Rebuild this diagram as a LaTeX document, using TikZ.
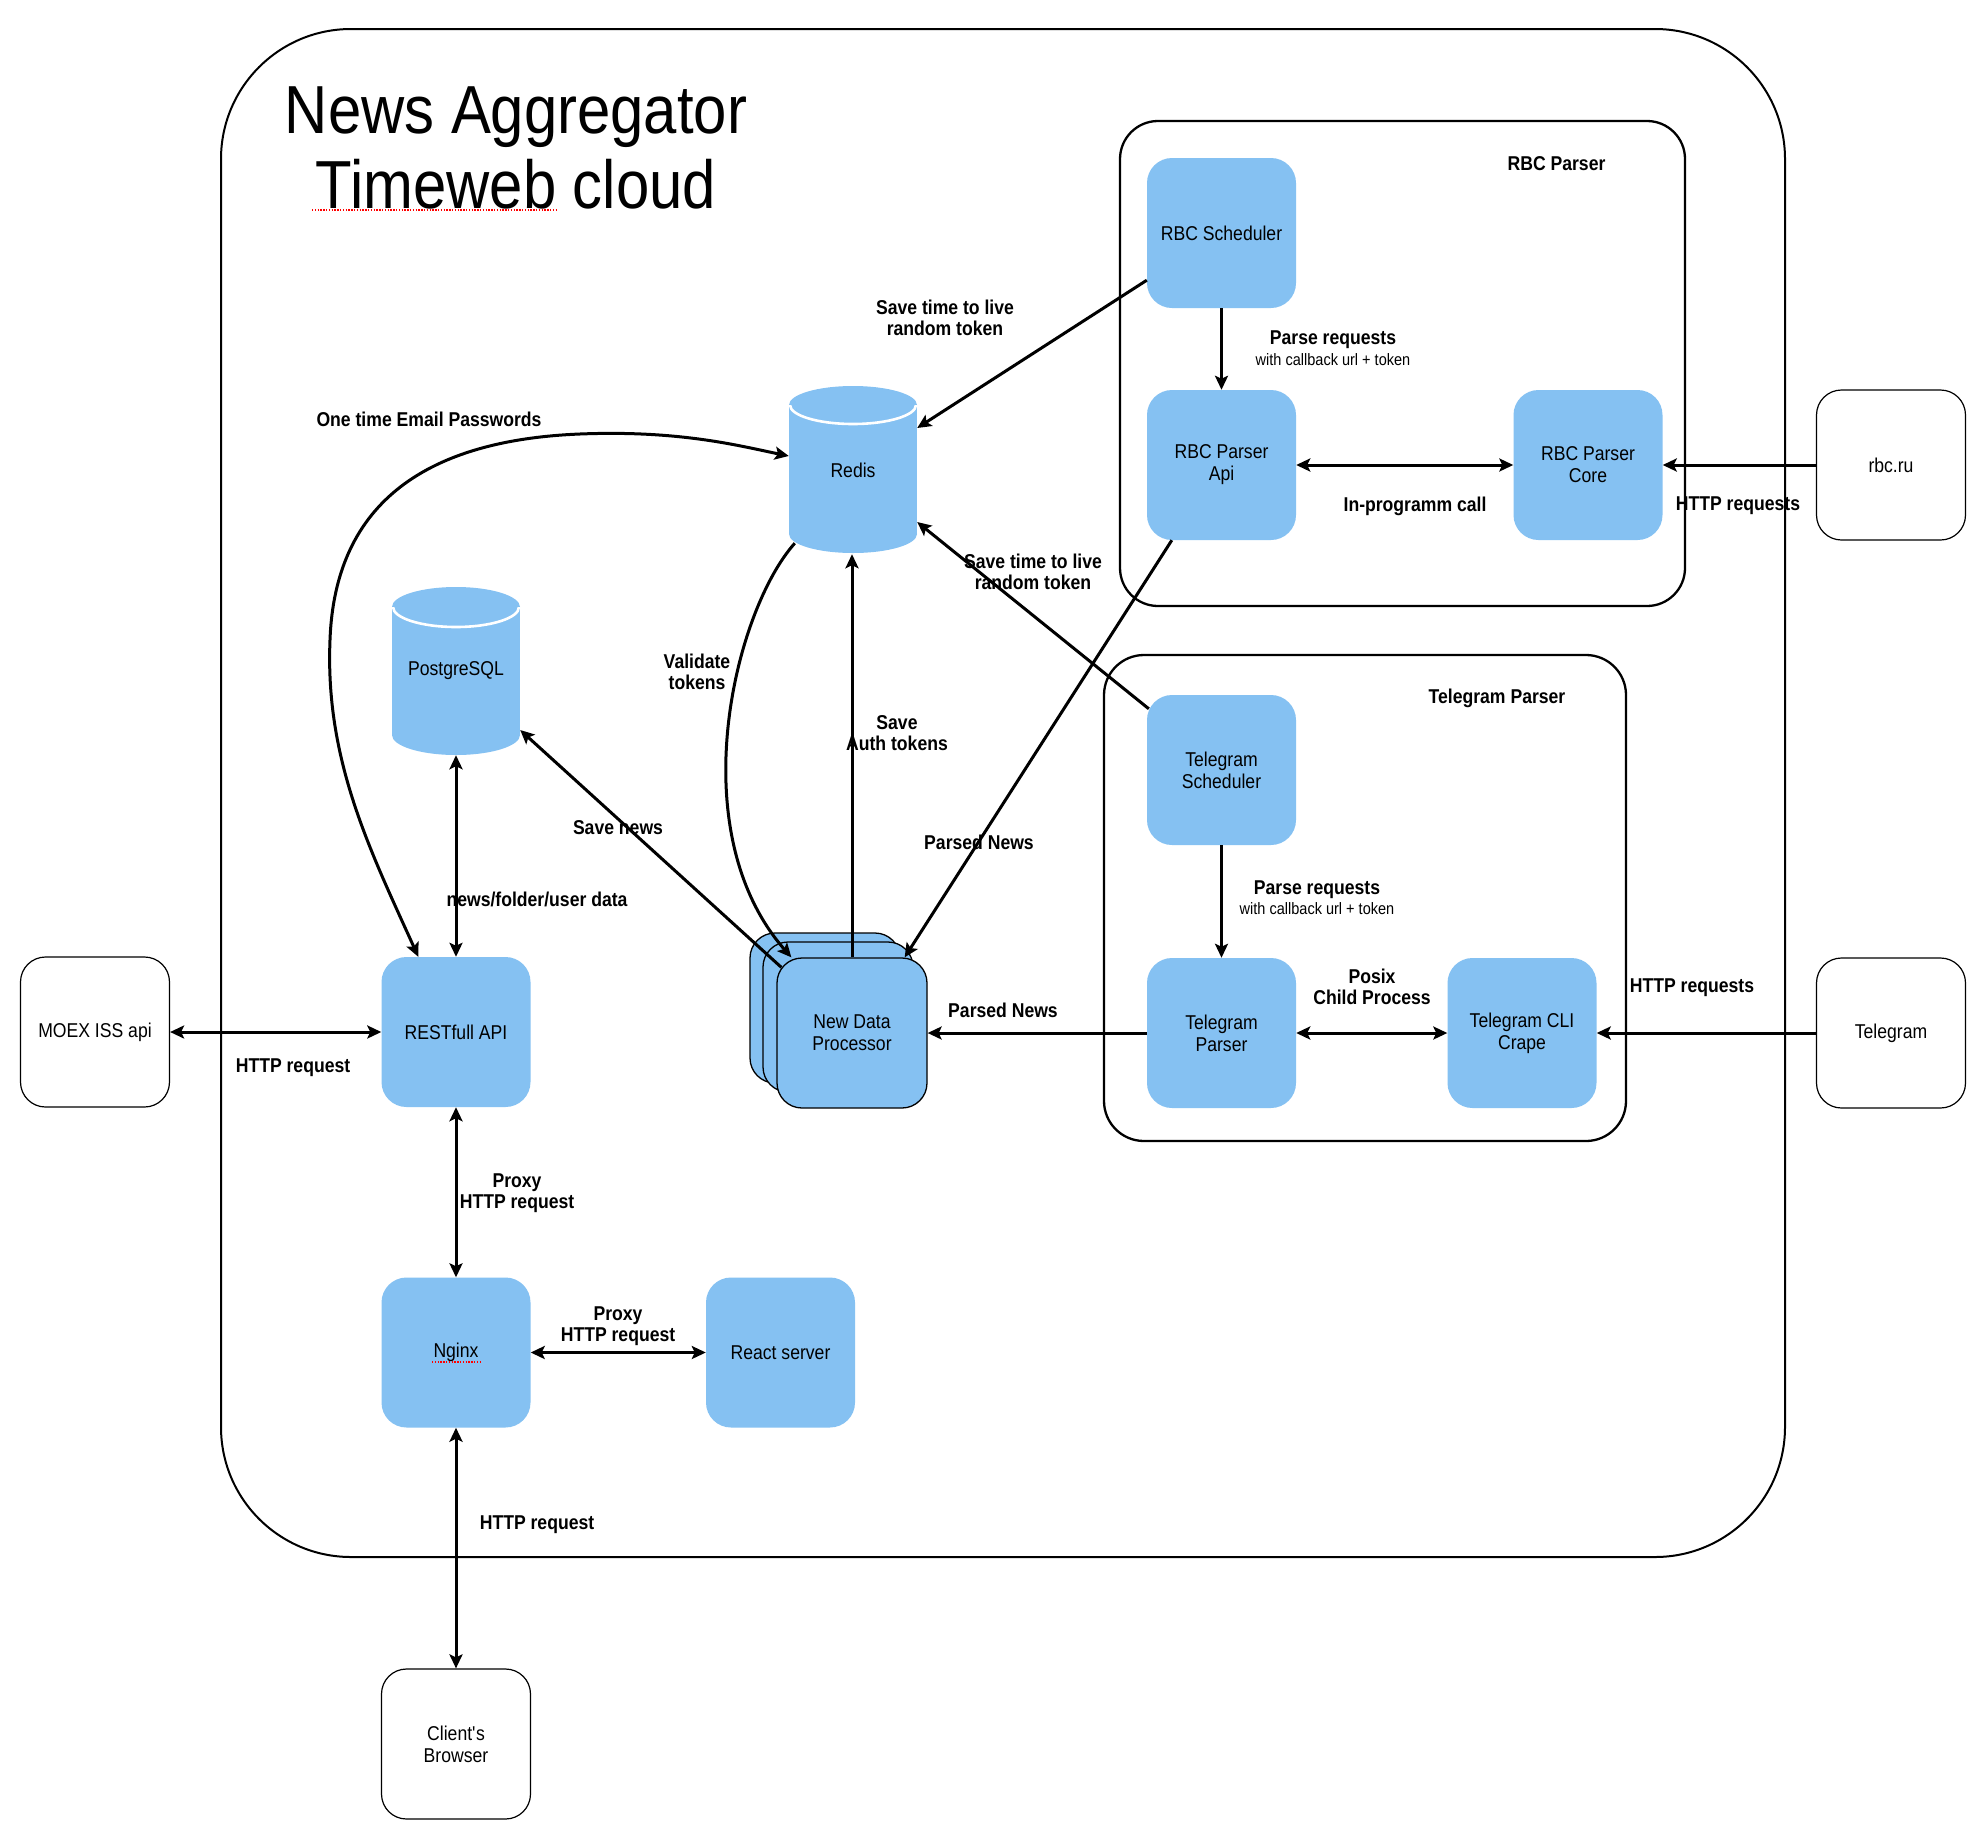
\documentclass[tikz,border=0pt]{standalone}
\usepackage{fontspec}
\setmainfont[FakeStretch=0.88]{Liberation Sans}
\usetikzlibrary{arrows.meta,calc}
\definecolor{boxblue}{HTML}{85C1F2}
\newcommand\dnodefont{\fontsize{20}{22}\selectfont}
\newcommand\dlblfont{\fontsize{20}{21.5}\selectfont\bfseries}
\newcommand\dsmallfont{\fontsize{16.5}{18}\selectfont}
\newcommand\dtitlefont{\fontsize{68}{75}\selectfont}
\tikzset{
  bluebox/.style={fill=boxblue, rounded corners=25pt, minimum width=149pt, minimum height=150pt, inner sep=0pt, align=center, font=\dnodefont},
  extbox/.style={draw=black, line width=1.2pt, fill=white, rounded corners=25pt, minimum width=149pt, minimum height=150pt, inner sep=0pt, align=center, font=\dnodefont},
  stackbox/.style={draw=black, line width=1.3pt, fill=boxblue, rounded corners=25pt, minimum width=150pt, minimum height=150pt, inner sep=0pt, align=center, font=\dnodefont},
  dbnode/.style={minimum width=128pt, minimum height=168pt, inner sep=0pt, font=\dnodefont},
  groupbox/.style={draw=black, line width=2.3pt, rounded corners=38pt, inner sep=0pt},
  lbl/.style={font=\dlblfont, align=center, inner sep=0pt},
  smalllbl/.style={font=\dsmallfont, inner sep=0pt},
  conn/.style={line width=3pt, -{Stealth[length=14pt,width=13pt,inset=3pt]}},
  conntwo/.style={line width=3pt, {Stealth[length=14pt,width=13pt,inset=3pt]}-{Stealth[length=14pt,width=13pt,inset=3pt]}},
  spell/.style={draw=red, line width=1.1pt, dash pattern=on 1.4pt off 1.4pt},
}
\begin{document}
\begin{tikzpicture}[x=1pt,y=-1pt]
\useasboundingbox (0,0) rectangle (1984,1834);
\fill[white] (0,0) rectangle (1984,1834);

% outer frame
\node[draw=black, line width=2pt, rounded corners=130pt, minimum width=1564pt, minimum height=1528pt, inner sep=0pt] (outer) at (1003,793) {};

% title
\node[anchor=base, font=\dtitlefont, inner sep=0pt] (title1) at (516,133) {News Aggregator};
\node[anchor=base, font=\dtitlefont, inner sep=0pt] (title2) at (516,208) {Timeweb cloud};
\draw[spell] (312,210) -- (558,210);

% groups
\node[groupbox, minimum width=565pt, minimum height=485pt] (rbcgroup) at (1402.5,363.5) {};
\node[lbl] (rbcgrouplbl) at (1556.5,164) {RBC Parser};
\node[groupbox, rounded corners=40pt, minimum width=522pt, minimum height=486pt] (tggroup) at (1365,898) {};
\node[lbl] (tggrouplbl) at (1497,698) {Telegram Parser};

% cylinders
\fill[boxblue] (789,405) rectangle (917,534);
\fill[boxblue] (853,534) ellipse [x radius=64pt, y radius=19pt];
\fill[boxblue] (853,405) ellipse [x radius=64pt, y radius=19pt];
\begin{scope}
\clip (785,405) rectangle (921,440);
\draw[white, line width=2.6pt] (853,405) ellipse [x radius=63pt, y radius=19pt];
\end{scope}
\node[dbnode] (redis) at (853,470) {Redis};

\fill[boxblue] (392,607) rectangle (520,735);
\fill[boxblue] (456,735) ellipse [x radius=64pt, y radius=20pt];
\fill[boxblue] (456,607) ellipse [x radius=64pt, y radius=20pt];
\begin{scope}
\clip (388,607) rectangle (524,640);
\draw[white, line width=2.6pt] (456,607) ellipse [x radius=63pt, y radius=20pt];
\end{scope}
\node[dbnode] (pg) at (456,671) {PostgreSQL};

% blue nodes
\node[bluebox] (rbcsched) at (1221.5,233) {RBC Scheduler};
\node[bluebox] (rbcapi) at (1221.5,465) {RBC Parser\\Api};
\node[bluebox] (rbccore) at (1588,465) {RBC Parser\\Core};
\node[bluebox] (tgsched) at (1221.5,770) {Telegram\\Scheduler};
\node[bluebox] (tgparser) at (1221.5,1033) {Telegram\\Parser};
\node[bluebox] (tgcli) at (1522,1033) {Telegram CLI\\Crape};
\node[bluebox] (rest) at (456,1032) {RESTfull API};
\node[bluebox] (nginx) at (456,1352.5) {Nginx};
\node[bluebox] (react) at (780.5,1352.5) {React server};
\draw[spell] (432,1362) -- (480,1362);

% stacked processor
\node[stackbox] (ndpb) at (825,1008) {};
\node[stackbox] (ndpm) at (838,1017) {};
\node[stackbox] (ndpf) at (852,1033) {New Data\\Processor};

% external nodes
\node[extbox] (rbcru) at (1891,465) {rbc.ru};
\node[extbox] (telegram) at (1891,1033) {Telegram};
\node[extbox] (moex) at (95,1032) {MOEX ISS api};
\node[extbox] (browser) at (456,1744) {Client\textquotesingle s\\Browser};

% connectors
\draw[conn] ($(rbcsched.south west)+(0,-28)$) -- ($(redis.east)+(0,-42)$);
\draw[conn] (rbcsched.south) -- (rbcapi.north);
\draw[conntwo] (rbcapi.east) -- (rbccore.west);
\draw[conn] (rbcru.west) -- (rbccore.east);
\draw[conn] ($(rbcapi.south west)+(25,0)$) -- ($(ndpf.north east)+(-23,0)$);
\draw[conn] ($(tgsched.north west)+(2,14)$) -- ($(redis.east)+(0,52)$);
\draw[conn] (tgsched.south) -- (tgparser.north);
\draw[conntwo] (tgparser.east) -- (tgcli.west);
\draw[conn] (telegram.west) -- (tgcli.east);
\draw[conn] (tgparser.west) -- (ndpf.east);
\draw[conn] (ndpf.north) -- (ndpf.north |- redis.south);
\draw[conn] ($(redis.south west)+(6,-11)$) .. controls (735,610) and (680,830) .. ($(ndpf.north west)+(15,0)$);
\draw[conn] ($(ndpf.north west)+(5,10)$) -- ($(pg.east)+(0,59)$);
\draw[conntwo] (pg.south) -- (rest.north);
\draw[conntwo] ($(rest.north west)+(37,0)$) .. controls (370,850) and (325,760) .. (330,640) .. controls (335,500) and (430,440) .. (580,434) .. controls (680,430) and (740,446) .. ($(redis.west)+(0,-14)$);
\draw[conntwo] (moex.east) -- (rest.west);
\draw[conntwo] (rest.south) -- (nginx.north);
\draw[conntwo] (nginx.east) -- (react.west);
\draw[conntwo] (nginx.south) -- (browser.north);

% labels
\node[lbl] (l1) at (945,318) {Save time to live\\random token};
\node[lbl] (l2) at (1333,340) {Parse requests};
\node[smalllbl] (l2s) at (1333,360) {with callback url + token};
\node[lbl] (l3) at (1415,506) {In-programm call};
\node[lbl] (l4) at (1738,506) {HTTP requests};
\node[lbl] (l5) at (1033,572) {Save time to live\\random token};
\node[lbl] (l6) at (697,672) {Validate\\tokens};
\node[lbl] (l7) at (897,733) {Save\\Auth tokens};
\node[lbl] (l8) at (979,842) {Parsed News};
\node[lbl] (l9) at (618,828) {Save news};
\node[lbl] (l10) at (537,899) {news/folder/user data};
\node[lbl] (l11) at (429,419) {One time Email Passwords};
\node[lbl] (l12) at (1317,890) {Parse requests};
\node[smalllbl] (l12s) at (1317,909) {with callback url + token};
\node[lbl] (l13) at (1372,987) {Posix\\Child Process};
\node[lbl] (l14) at (1692,988) {HTTP requests};
\node[lbl] (l15) at (1003,1010) {Parsed News};
\node[lbl] (l16) at (293,1068) {HTTP request};
\node[lbl] (l17) at (517,1193) {Proxy\\HTTP request};
\node[lbl] (l18) at (618,1326) {Proxy\\HTTP request};
\node[lbl] (l19) at (537,1525) {HTTP request};
\end{tikzpicture}
\end{document}
